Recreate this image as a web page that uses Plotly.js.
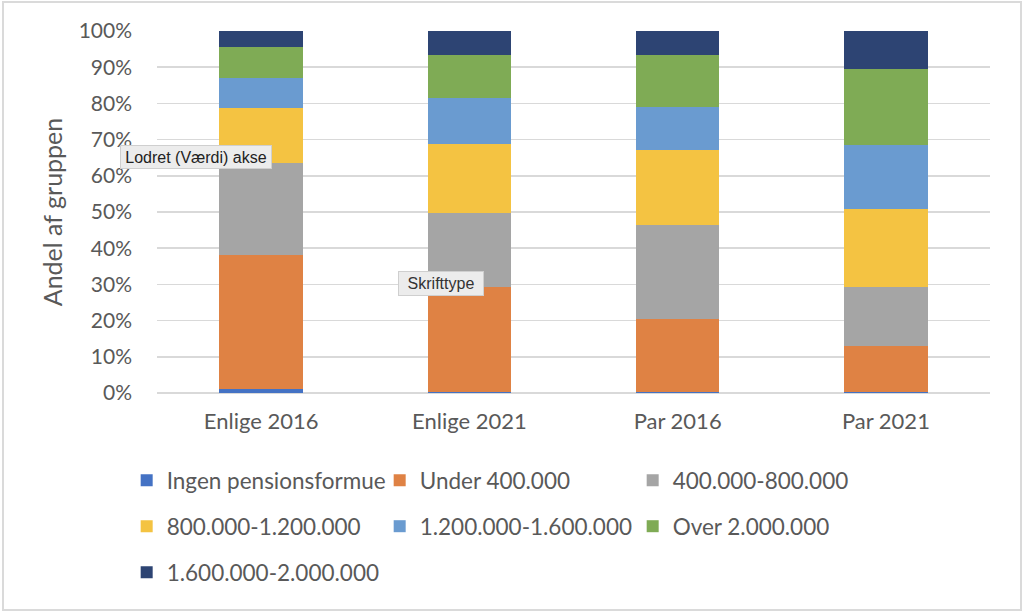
<!DOCTYPE html>
<html>
<head>
<meta charset="utf-8">
<script src="https://cdn.plot.ly/plotly-3.0.1.min.js"></script>
<style>
  html, body { margin: 0; padding: 0; background: #fff; }
  #wrap { position: relative; width: 1024px; height: 611px; }
  #chart { width: 1024px; height: 611px; }
  #frame { position: absolute; left: 2px; top: 1px; width: 1016px; height: 606px;
           border: 2px solid #dadada; pointer-events: none; }
</style>
</head>
<body>
<div id="wrap">
  <div id="chart"></div>
  <div id="frame"></div>
</div>
<script>
// grupper på x-aksen
const groups = ["Enlige 2016", "Enlige 2021", "Par 2016", "Par 2021"];

// andele i procent, nedefra og op i stakken
const ingen = [1.0, 0.3, 0.2, 0.2];
const under400 = [37.2, 29.0, 20.3, 12.9];
const s400_800 = [25.2, 20.4, 25.8, 16.1];
const s800_1200 = [15.4, 19.2, 20.7, 21.5];
const s1200_1600 = [8.1, 12.6, 11.9, 17.7];
const over2000 = [8.6, 12.0, 14.4, 21.1];
const s1600_2000 = [4.5, 6.5, 6.7, 10.5];

const seriesNames = [
  "Ingen pensionsformue", "Under 400.000", "400.000-800.000",
  "800.000-1.200.000", "1.200.000-1.600.000", "Over 2.000.000",
  "1.600.000-2.000.000"
];
const seriesValues = [ingen, under400, s400_800, s800_1200, s1200_1600, over2000, s1600_2000];
const colors = ["#4472C4", "#DF8244", "#A5A5A5", "#F4C342", "#6A9BD0", "#7FAB55", "#2D4473"];
const legendRows = ["legend", "legend", "legend", "legend2", "legend2", "legend2", "legend3"];

const txt = "#595959";
const fnt = "Lato, 'Open Sans', sans-serif";
const tipFont = "'Liberation Sans', Arial, sans-serif";

const traces = seriesNames.map((name, i) => ({
  type: "bar",
  name: name,
  x: groups,
  y: seriesValues[i],
  marker: { color: colors[i], line: { width: 0 } },
  legend: legendRows[i],
  hoverinfo: "name+y"
}));

function legendRow(y) {
  return {
    orientation: "h",
    x: -0.0364, xanchor: "left",
    y: y, yanchor: "middle",
    entrywidth: 208, entrywidthmode: "pixels",
    traceorder: "normal",
    font: { family: fnt, size: 22.5, color: txt },
    bgcolor: "rgba(0,0,0,0)"
  };
}

const layout = {
  width: 1024,
  height: 611,
  margin: { l: 157, r: 34, t: 31, b: 218 },
  paper_bgcolor: "#fff",
  plot_bgcolor: "#fff",
  barmode: "stack",
  bargap: 0.6,
  font: { family: fnt, color: txt },
  xaxis: {
    showgrid: false,
    showline: false,
    zeroline: false,
    ticks: "",
    ticklabelstandoff: 13,
    tickfont: { family: fnt, size: 22, color: txt },
    fixedrange: true
  },
  yaxis: {
    range: [0, 100],
    dtick: 10,
    ticksuffix: "%",
    showgrid: true,
    gridcolor: "#d9d9d9",
    gridwidth: 1.5,
    zeroline: true,
    zerolinecolor: "#d9d9d9",
    zerolinewidth: 1.5,
    showline: false,
    ticks: "",
    ticklabelstandoff: 24,
    tickfont: { family: fnt, size: 21, color: txt },
    title: { text: "Andel af gruppen", font: { family: fnt, size: 25, color: txt }, standoff: 8 },
    fixedrange: true
  },
  legend: legendRow(-0.2424),
  legend2: legendRow(-0.369),
  legend3: legendRow(-0.496),
  annotations: [
    {
      text: "Lodret (Værdi) akse",
      xref: "paper", yref: "paper",
      x: 0.0468, y: 0.653, xanchor: "center", yanchor: "middle",
      showarrow: false,
      width: 146, height: 18,
      font: { family: tipFont, size: 16, color: "#222" },
      bgcolor: "#ececec", bordercolor: "#cfcfcf", borderwidth: 1, borderpad: 2
    },
    {
      text: "Skrifttype",
      xref: "paper", yref: "paper",
      x: 0.3409, y: 0.3017, xanchor: "center", yanchor: "middle",
      showarrow: false,
      width: 80, height: 19,
      font: { family: tipFont, size: 16, color: "#333" },
      bgcolor: "#ececec", bordercolor: "#cfcfcf", borderwidth: 1, borderpad: 2
    }
  ],
  showlegend: true
};

Plotly.newPlot("chart", traces, layout, { displayModeBar: false, staticPlot: true });
</script>
</body>
</html>
